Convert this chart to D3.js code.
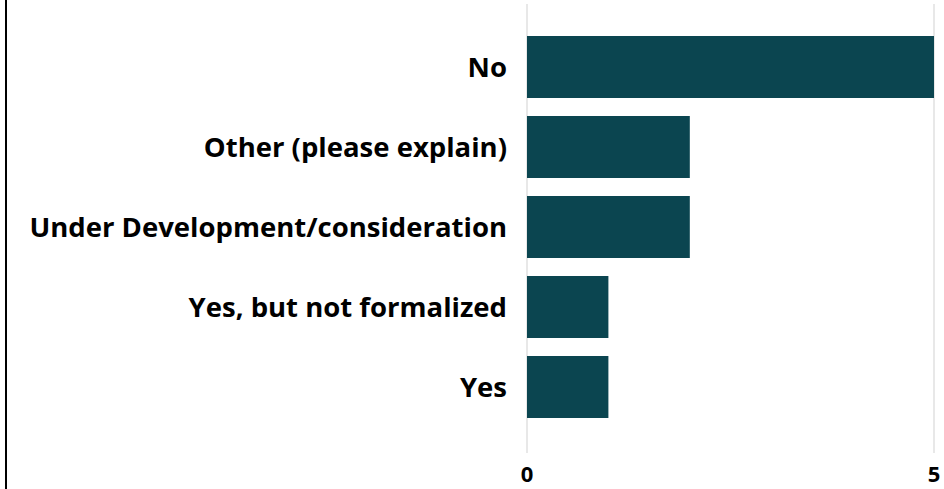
<!DOCTYPE html>
<html>
<head>
<meta charset="utf-8">
<script src="https://cdn.jsdelivr.net/npm/d3@7"></script>
<style>
  html, body { margin: 0; padding: 0; background: #fff; }
  svg { display: block; }
  text { font-family: "Open Sans", "Noto Sans", sans-serif; font-weight: bold; fill: #000; }
</style>
</head>
<body>
<script>
const categories = ['No', 'Other (please explain)', 'Under Development/consideration', 'Yes, but not formalized', 'Yes'];
const counts = [5, 2, 2, 1, 1];
const ticks = [0, 5];

const width = 944, height = 489;
const margin = { top: 36, left: 527, right: 10 };

const svg = d3.select('body')
  .append('svg')
  .attr('width', width)
  .attr('height', height);

// left frame line
svg.append('line')
  .attr('x1', 6).attr('x2', 6)
  .attr('y1', 0).attr('y2', height)
  .attr('stroke', '#000')
  .attr('stroke-width', 2);

const x = d3.scaleLinear()
  .domain([0, 5])
  .range([margin.left, 934]);

const y = d3.scaleBand()
  .domain(categories)
  .range([margin.top - 9, margin.top - 9 + 80 * categories.length])
  .paddingInner(18 / 80)
  .paddingOuter(9 / 80);

// gridlines
svg.append('g')
  .selectAll('line')
  .data(ticks)
  .enter()
  .append('line')
  .attr('x1', d => x(d))
  .attr('x2', d => x(d))
  .attr('y1', 4)
  .attr('y2', 453)
  .attr('stroke', '#e8e8e8')
  .attr('stroke-width', 2);

svg.append('g')
  .selectAll('rect')
  .data(counts)
  .enter()
  .append('rect')
  .attr('x', x(0))
  .attr('y', (d, i) => y(categories[i]))
  .attr('width', d => x(d) - x(0))
  .attr('height', y.bandwidth())
  .attr('fill', '#0b4550');

svg.append('g')
  .selectAll('text')
  .data(categories)
  .enter()
  .append('text')
  .attr('x', 507)
  .attr('y', d => y(d) + y.bandwidth() / 2)
  .attr('dy', '0.36em')
  .attr('text-anchor', 'end')
  .style('font-size', '27.5px')
  .text(d => d);

svg.append('g')
  .selectAll('text')
  .data(ticks)
  .enter()
  .append('text')
  .attr('x', d => x(d))
  .attr('y', 482)
  .attr('text-anchor', 'middle')
  .style('font-size', '22px')
  .text(d => d);
</script>
</body>
</html>
